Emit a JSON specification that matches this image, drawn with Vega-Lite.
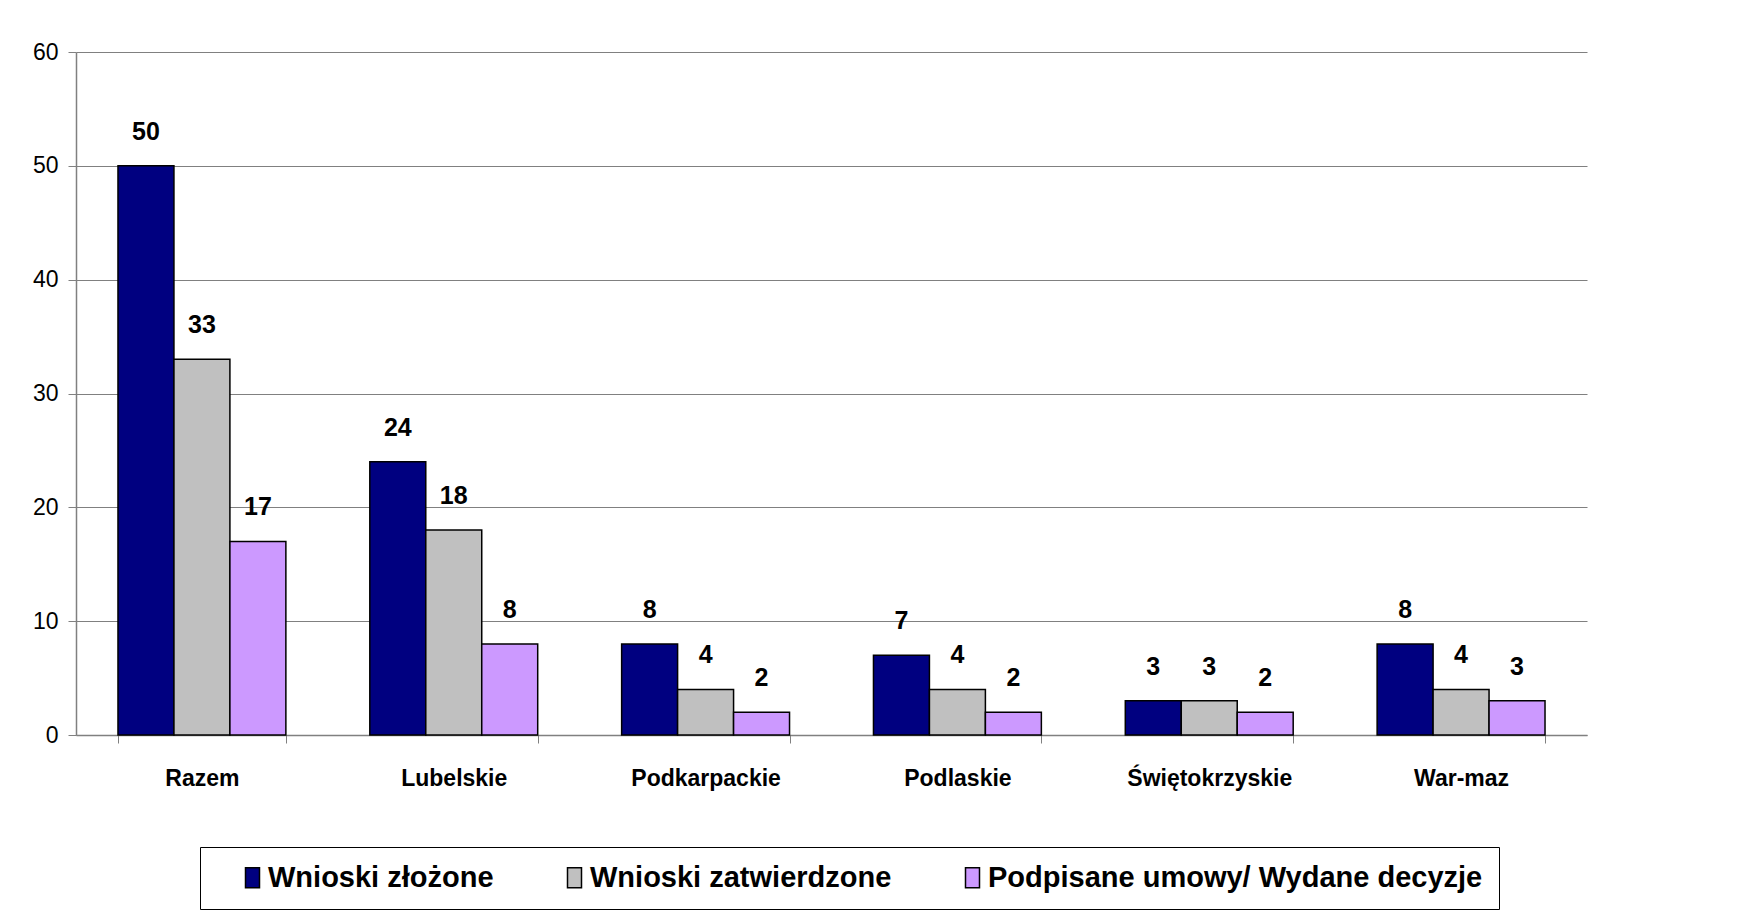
{
  "$schema": "https://vega.github.io/schema/vega-lite/v6.json",
  "autosize": {"type": "none"},
  "padding": {"left": 76, "top": 52, "right": 168, "bottom": 180},
  "width": 1511,
  "height": 683,
  "background": "white",
  "config": {
    "font": "Liberation Sans",
    "view": {"stroke": null}
  },
  "data": {
    "values": [
      {"region": "Razem", "series": "Wnioski złożone", "value": 50},
      {"region": "Razem", "series": "Wnioski zatwierdzone", "value": 33},
      {"region": "Razem", "series": "Podpisane umowy/ Wydane decyzje", "value": 17},
      {"region": "Lubelskie", "series": "Wnioski złożone", "value": 24},
      {"region": "Lubelskie", "series": "Wnioski zatwierdzone", "value": 18},
      {"region": "Lubelskie", "series": "Podpisane umowy/ Wydane decyzje", "value": 8},
      {"region": "Podkarpackie", "series": "Wnioski złożone", "value": 8},
      {"region": "Podkarpackie", "series": "Wnioski zatwierdzone", "value": 4},
      {"region": "Podkarpackie", "series": "Podpisane umowy/ Wydane decyzje", "value": 2},
      {"region": "Podlaskie", "series": "Wnioski złożone", "value": 7},
      {"region": "Podlaskie", "series": "Wnioski zatwierdzone", "value": 4},
      {"region": "Podlaskie", "series": "Podpisane umowy/ Wydane decyzje", "value": 2},
      {"region": "Świętokrzyskie", "series": "Wnioski złożone", "value": 3},
      {"region": "Świętokrzyskie", "series": "Wnioski zatwierdzone", "value": 3},
      {"region": "Świętokrzyskie", "series": "Podpisane umowy/ Wydane decyzje", "value": 2},
      {"region": "War-maz", "series": "Wnioski złożone", "value": 8},
      {"region": "War-maz", "series": "Wnioski zatwierdzone", "value": 4},
      {"region": "War-maz", "series": "Podpisane umowy/ Wydane decyzje", "value": 3}
    ]
  },
  "encoding": {
    "x": {
      "field": "region",
      "type": "nominal",
      "sort": ["Razem", "Lubelskie", "Podkarpackie", "Podlaskie", "Świętokrzyskie", "War-maz"],
      "scale": {"paddingInner": 0.3333, "paddingOuter": 0.1667},
      "axis": {
        "title": null,
        "labelAngle": 0,
        "labelFont": "Liberation Sans",
        "labelFontWeight": "bold",
        "labelFontSize": 23,
        "labelColor": "black",
        "labelPadding": 24,
        "tickBand": "extent",
        "tickSize": 8,
        "tickColor": "#808080",
        "domainColor": "#808080",
        "domainWidth": 1.5,
        "grid": false
      }
    },
    "xOffset": {
      "field": "series",
      "type": "nominal",
      "sort": ["Wnioski złożone", "Wnioski zatwierdzone", "Podpisane umowy/ Wydane decyzje"],
      "scale": {"paddingInner": 0, "paddingOuter": 0}
    },
    "y": {
      "field": "value",
      "type": "quantitative",
      "scale": {"domain": [0, 60]},
      "axis": {
        "title": null,
        "values": [0, 10, 20, 30, 40, 50, 60],
        "labelFont": "Liberation Sans",
        "labelFontSize": 23,
        "labelColor": "black",
        "labelPadding": 10,
        "tickSize": 8,
        "tickColor": "#808080",
        "domainColor": "#808080",
        "domainWidth": 1.5,
        "grid": true,
        "gridColor": "#808080",
        "gridWidth": 1.2,
        "gridOpacity": 1
      }
    }
  },
  "layer": [
    {
      "mark": {"type": "bar", "stroke": "black", "strokeWidth": 1.5},
      "encoding": {
        "color": {
          "field": "series",
          "type": "nominal",
          "scale": {
            "domain": ["Wnioski złożone", "Wnioski zatwierdzone", "Podpisane umowy/ Wydane decyzje"],
            "range": ["#000080", "#C0C0C0", "#CC99FF"]
          },
          "legend": {
            "title": null,
            "orient": "none",
            "legendX": 124,
            "legendY": 795,
            "direction": "horizontal",
            "columns": 3,
            "columnPadding": 44,
            "strokeColor": "black",
            "fillColor": "white",
            "padding": 16,
            "symbolOffset": 22,
            "symbolType": "M-0.7,-1L0.7,-1L0.7,1L-0.7,1Z",
            "symbolSize": 400,
            "symbolStrokeColor": "black",
            "symbolStrokeWidth": 1.5,
            "labelFont": "Liberation Sans",
            "labelFontWeight": "bold",
            "labelFontSize": 29,
            "labelColor": "black",
            "labelLimit": 700,
            "labelOffset": 1
          }
        }
      }
    },
    {
      "mark": {
        "type": "text",
        "font": "Liberation Sans",
        "fontWeight": "bold",
        "fontSize": 25,
        "color": "black",
        "baseline": "alphabetic",
        "dy": -26
      },
      "encoding": {
        "text": {"field": "value", "type": "quantitative"}
      }
    }
  ]
}
